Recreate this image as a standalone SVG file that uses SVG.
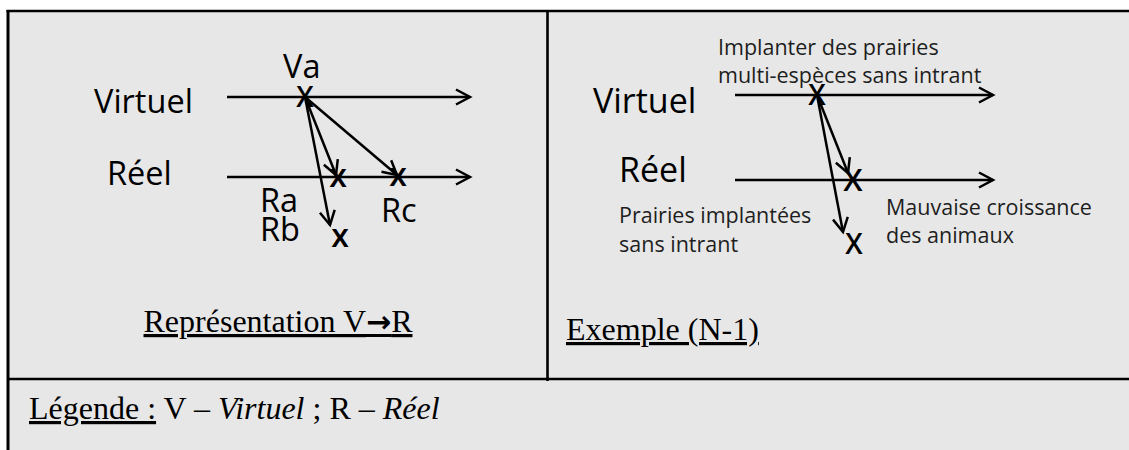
<svg xmlns="http://www.w3.org/2000/svg" width="1129" height="450" viewBox="0 0 1129 450">
<style>
.cal{font-family:"Open Sans","Noto Sans",sans-serif;fill:#000}
.big{font-size:32.5px}
.sm{font-size:21.5px;fill:#1e1e1e}
.tnr{font-family:"Liberation Serif","Times New Roman",serif;font-size:32px;fill:#000}
.frame{stroke:#000;fill:none}
.ln{stroke:#000;stroke-width:2.5;fill:none}
.mk{font-family:"Open Sans","Noto Sans",sans-serif;fill:#000;text-anchor:middle;font-weight:600}
</style>
<defs>
<marker id="ah" viewBox="-16 -10 20 20" refX="0" refY="0" markerWidth="20" markerHeight="20" markerUnits="userSpaceOnUse" orient="auto" overflow="visible">
<path d="M-14,-7.5 L0,0 L-14,7.5" fill="none" stroke="#000" stroke-width="2.5"/>
</marker>
</defs>
<rect x="0" y="0" width="1129" height="450" fill="#fff"/>
<rect x="8" y="11" width="1121" height="439" fill="#e7e7e7"/>
<g id="frame">
<line class="frame" x1="6.5" y1="11" x2="1129" y2="11" stroke-width="2.4"/>
<line class="frame" x1="8" y1="10" x2="8" y2="450" stroke-width="3"/>
<line class="frame" x1="547.5" y1="10" x2="547.5" y2="381" stroke-width="2.6"/>
<line class="frame" x1="8" y1="379" x2="1129" y2="379" stroke-width="2.4"/>
</g>
<g id="connectors">
<line class="ln" x1="227" y1="97" x2="470" y2="97" marker-end="url(#ah)"/>
<line class="ln" x1="227" y1="177" x2="470" y2="177" marker-end="url(#ah)"/>
<line class="ln" x1="305" y1="97" x2="336" y2="175" marker-end="url(#ah)"/>
<line class="ln" x1="305" y1="97" x2="330" y2="225" marker-end="url(#ah)"/>
<line class="ln" x1="305" y1="97" x2="397" y2="175" marker-end="url(#ah)"/>
<line class="ln" x1="735" y1="95" x2="993" y2="95" marker-end="url(#ah)"/>
<line class="ln" x1="735" y1="180" x2="993" y2="180" marker-end="url(#ah)"/>
<line class="ln" x1="817" y1="95" x2="848" y2="173" marker-end="url(#ah)"/>
<line class="ln" x1="817" y1="95" x2="843" y2="232" marker-end="url(#ah)"/>
</g>
<g id="left-panel">
<text class="cal big" x="94" y="113">Virtuel</text>
<text class="cal big" x="107" y="185">Réel</text>
<text class="cal big" x="283" y="78">Va</text>
<text class="cal big" x="260" y="212">Ra</text>
<text class="cal big" x="260" y="241">Rb</text>
<text class="cal big" x="381" y="222">Rc</text>
<text class="mk" x="305" y="107" font-size="28">X</text>
<text class="mk" x="338" y="187" font-size="32">x</text>
<text class="mk" x="398" y="186" font-size="32">x</text>
<text class="mk" x="340" y="247" font-size="32">x</text>
<text class="tnr" x="278" y="332" text-anchor="middle" text-decoration="underline">Représentation V<tspan font-family="DejaVu Sans" font-weight="bold" font-size="30">→</tspan>R</text>
</g>
<g id="right-panel">
<text class="cal" x="593" y="113" font-size="34">Virtuel</text>
<text class="cal" x="619" y="182" font-size="34">Réel</text>
<text class="cal sm" x="718" y="55">Implanter des prairies</text>
<text class="cal sm" x="718" y="83">multi-espèces sans intrant</text>
<text class="cal sm" x="619" y="223">Prairies implantées</text>
<text class="cal sm" x="619" y="252">sans intrant</text>
<text class="cal sm" x="886" y="215">Mauvaise croissance</text>
<text class="cal sm" x="886" y="243">des animaux</text>
<text class="mk" x="817" y="105" font-size="28">X</text>
<text class="mk" x="853" y="191" font-size="31">X</text>
<text class="mk" x="854" y="254" font-size="28">X</text>
<text class="tnr" x="566" y="340" text-decoration="underline">Exemple (N-1)</text>
</g>
<g id="legend">
<text class="tnr" x="29" y="419"><tspan text-decoration="underline">Légende :</tspan> V – <tspan font-style="italic">Virtuel</tspan> ; R – <tspan font-style="italic">Réel</tspan></text>
</g>
</svg>
